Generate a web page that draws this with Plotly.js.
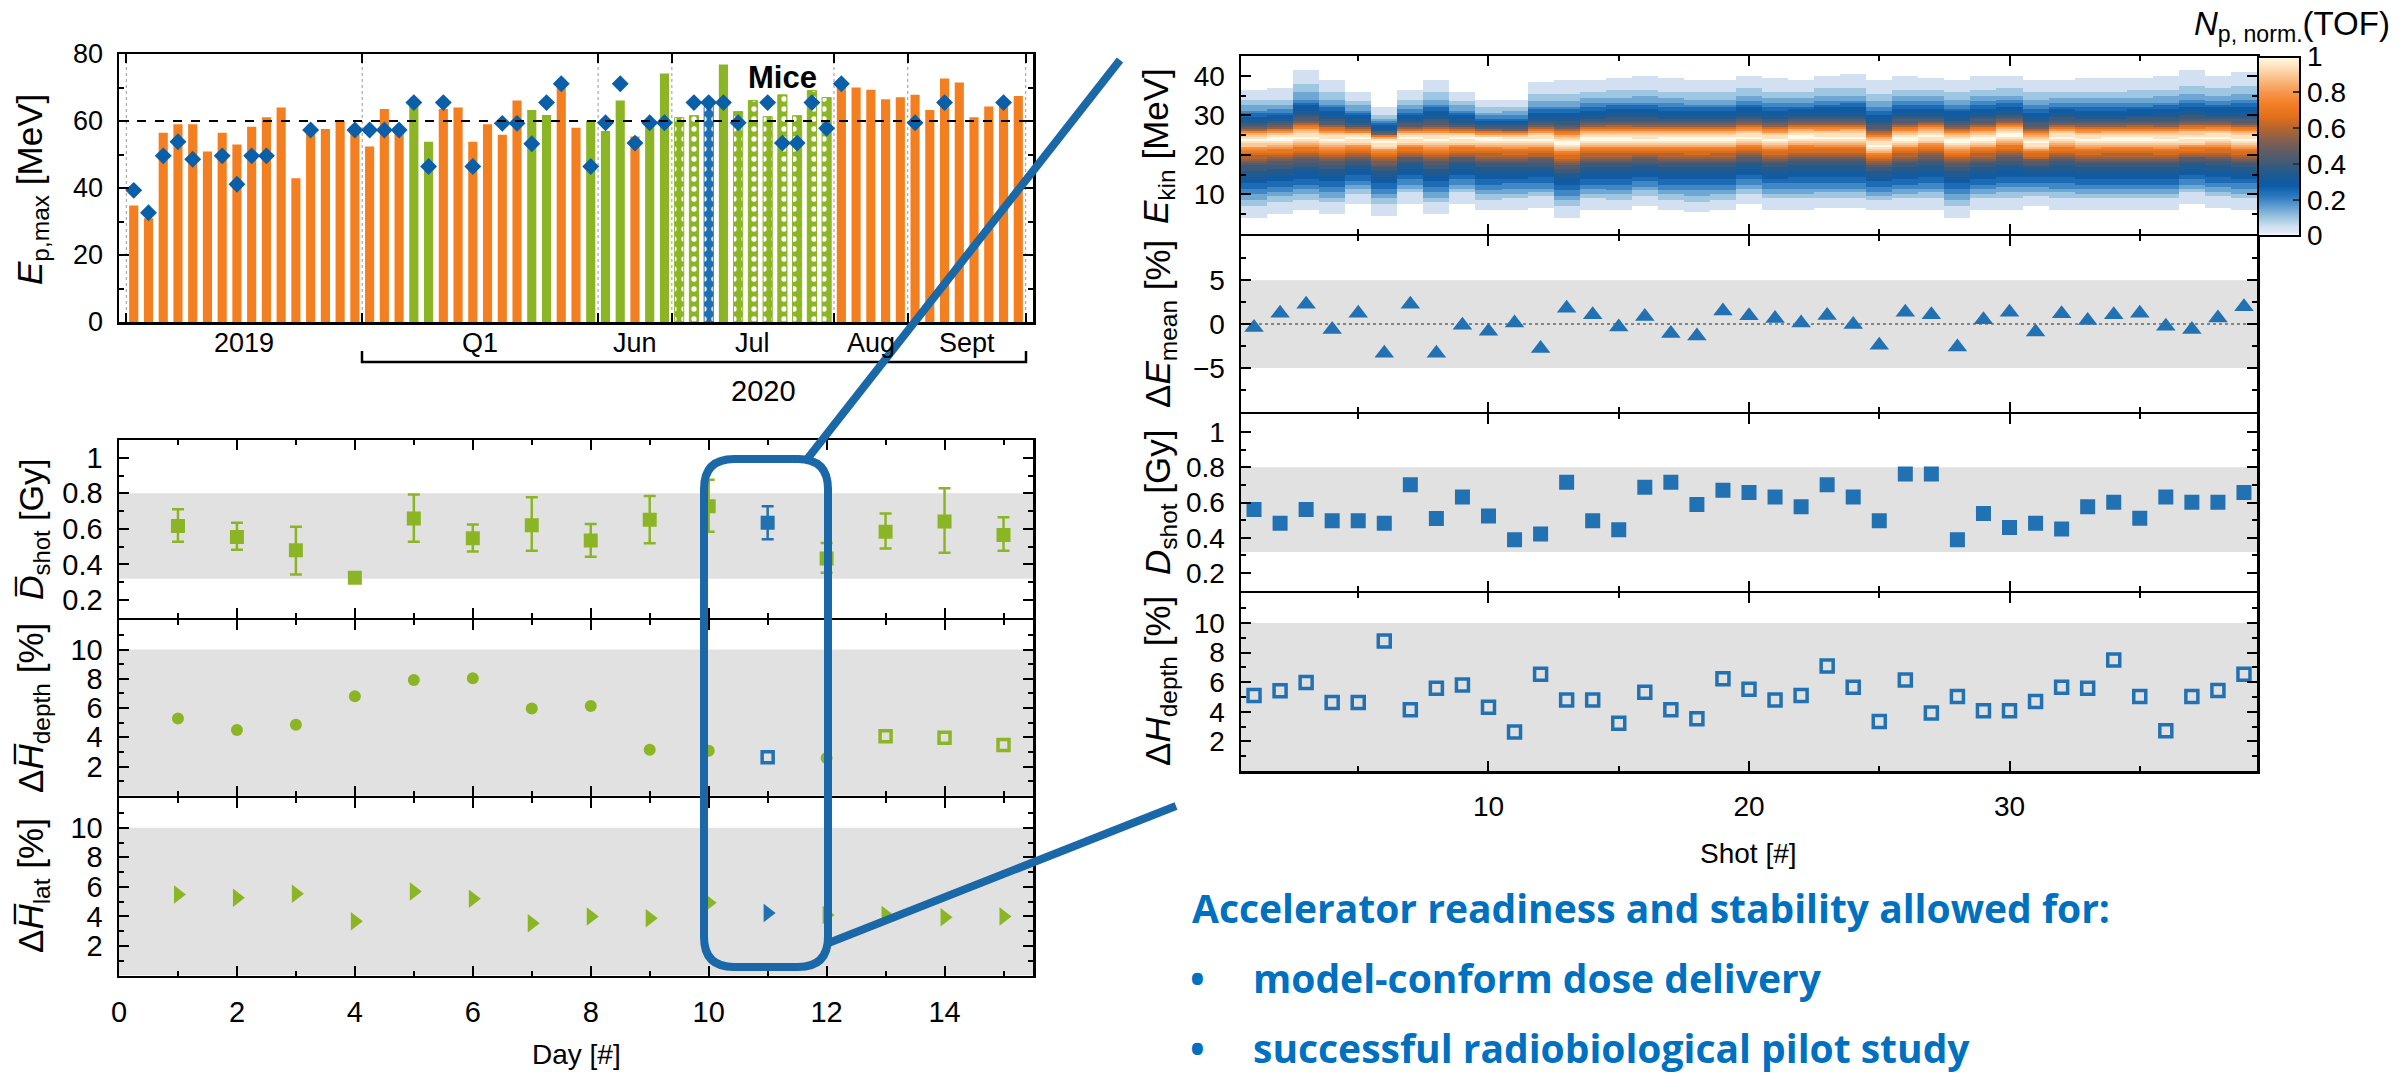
<!DOCTYPE html>
<html><head><meta charset="utf-8">
<script src="https://cdn.plot.ly/plotly-3.0.1.min.js"></script>
<style>html,body{margin:0;padding:0;background:#fff}#plot{width:2402px;height:1074px}</style>
</head><body><div id="plot"></div>
<script>
// ================= DATA =================
// --- Top-left: maximum proton energy per campaign day (bar) ---
const barNo = [1,2,3,4,5,6,7,8,9,10,11,12,13,14,15,16,17,18,19,20,21,22,23,24,25,26,27,28,29,30,
  31,32,33,34,35,36,37,38,39,40,41,42,43,44,45,46,47,48,49,50,51,52,53,54,55,56,57,58,59,60,61];
const barEmax = [34.8,31,56.5,59,59,50.9,56.5,53,58.3,61.1, 64,42.9,57.5,57.6,60.1,58,52.4,63.6,58,64.5,
  53.8,63.6,64,53.8,59,55.9,66.1,63.3,61.8,69.8, 58,60.1,57,66.1,55.4,58.8,74.2,61,61.6,64.3,
  76.9,62.8,66.1,61.3,67.8,61.6,69.1,67,70.3,70, 69.3,66.5,67.1,67.8,63.3,72.7,71.5,61.1,64.3,64.8,67.5];
// o = orange, g = green, gd = green dotted, bd = blue dotted
const barKind = ['o','o','o','o','o','o','o','o','o','o','o','o','o','o','o','o','o','o','o','g',
  'g','o','o','o','o','o','o','g','g','o','o','g','g','g','o','g','g','gd','gd','bd',
  'g','gd','gd','gd','gd','gd','gd','gd','o','o','o','o','o','o','o','o','o','o','o','o','o'];
const diamondE = [39.3,32.6,49.6,53.8,48.6,null,49.6,41.1,49.6,49.6, null,null,57.3,null,null,57.3,57.3,57.3,57.3,65.5,
  46.4,65.5,null,46.4,null,59.3,59.3,53.2,65.5,71.1, null,46.4,59.5,71.1,53.4,59.5,59.5,null,65.5,65.5,
  65.5,59.5,null,65.5,53.4,53.4,65.5,57.8,71.1,null, null,null,null,59.5,null,65.5,null,null,null,65.5,null];
const groupSeparators = [0.5,16.5,32.5,37.5,48.5,53.5,61.5];
const groupLabels = ['2019','Q1','Jun','Jul','Aug','Sept'];
const groupCenters = [8.5,24.5,35,43,51,57.5];

// --- Bottom-left: per-day values ---
const days = [1,2,3,4,5,6,7,8,9,10,11,12,13,14,15];
const dayKind = ['g','g','g','g','g','g','g','g','g','g','b','g','g','g','g'];
const doseDay = [0.616,0.554,0.48,0.325,0.658,0.547,0.621,0.535,0.651,0.727,0.635,0.434,0.584,0.642,0.565];
const doseErrPlus = [0.095,0.081,0.132,0.0,0.136,0.078,0.157,0.093,0.134,0.15,0.092,0.086,0.102,0.187,0.1];
const doseErrMinus = [0.088,0.072,0.137,0.0,0.13,0.074,0.144,0.092,0.132,0.143,0.093,0.081,0.095,0.176,0.088];
const depthDay = [5.28,4.5,4.86,6.8,7.92,8.03,5.97,6.14,3.14,3.08,2.64,2.58,4.06,3.97,3.47];
const depthKind = ['c','c','c','c','c','c','c','c','c','c','bs','c','s','s','s'];
const latDay = [5.48,5.26,5.54,3.67,5.68,5.2,3.53,4.0,3.87,4.93,4.23,4.09,4.09,3.95,4.0];

// --- Right: per-shot values ---
const shots = [1,2,3,4,5,6,7,8,9,10,11,12,13,14,15,16,17,18,19,20,21,22,23,24,25,26,27,28,29,30,31,32,33,34,35,36,37,38,39];
const deltaEmean = [-0.4,1.23,2.24,-0.63,1.23,-3.32,2.24,-3.32,-0.15,-0.82, 0.11,-2.8,1.79,1.04,-0.34,0.86,-1.08,-1.38,1.49,0.93,
  0.63,0.11,0.97,-0.07,-2.43,1.34,1.04,-2.61,0.49,1.34, -0.9,1.16,0.41,1.04,1.23,-0.26,-0.63,0.67,1.98];
const doseShot = [0.561,0.483,0.561,0.496,0.496,0.483,0.7,0.509,0.631,0.524, 0.389,0.422,0.715,0.496,0.446,0.687,0.715,0.589,0.669,0.657,
  0.631,0.576,0.7,0.631,0.496,0.761,0.761,0.389,0.537,0.459, 0.483,0.45,0.576,0.602,0.511,0.631,0.602,0.602,0.657];
const depthShot = [5.09,5.41,5.97,4.62,4.62,8.77,4.13,5.59,5.81,4.31, 2.63,6.53,4.8,4.8,3.23,5.32,4.13,3.52,6.22,5.52,
  4.8,5.09,7.09,5.65,3.35,6.15,3.91,5.03,4.06,4.06, 4.69,5.65,5.59,7.49,5.03,2.72,5.03,5.43,6.53];
// TOF spectrum per shot: peak energy, upper and lower extent (MeV)
const specPeak = [23.9,24.1,24.4,23.9,24.1,23.3,24.1,23.9,24.1,24.1, 23.9,23.9,23.1,24.1,24.1,23.9,24.1,24.1,24.1,24.4,
  23.9,24.6,24.4,24.4,22.4,24.1,24.8,23.5,24.1,25.0, 23.1,24.4,23.9,24.1,24.1,23.9,24.1,24.4,23.9];
const specMax = [36.4,36.8,41.3,39.2,36.2,32.0,36.6,38.9,36.2,33.9, 34.1,38.3,38.9,39.2,39.7,40.0,39.3,39.0,38.9,40.2,
  39.5,39.2,40.2,40.4,39.2,40.0,39.6,39.2,40.0,40.2, 39.2,39.2,39.5,39.3,39.6,40.0,41.3,40.2,41.0];
const specMin = [4.1,4.9,5.8,4.9,7.5,4.5,7.7,4.9,7.7,5.8, 6.2,6.6,4.1,6.0,5.8,7.0,5.8,5.3,5.8,7.5,
  6.2,6.0,6.4,6.4,5.8,6.0,6.0,4.1,6.0,6.2, 7.0,6.2,6.0,6.0,6.0,6.0,7.7,6.6,6.2];
// normalised TOF count profile (shot 14)
const refProfileE   = [6,7.5,8.7,10,11.5,13.4,15,17,18.5,20,21.5,22.7,24.1,25.6,26.5,27.7,29.5,31.5,33.2,35.4,37.5,39.7];
const refProfileLvl = [0.03,0.04,0.07,0.12,0.18,0.25,0.3,0.37,0.45,0.6,0.72,0.9,1.0,0.88,0.72,0.5,0.36,0.27,0.17,0.1,0.05,0.03];
const refPeak = 24.1, refMax = 39.7, refMin = 6;

// ================= STYLE =================
const W = 2402, H = 1074;
const px = x => x / W, py = y => 1 - y / H;
const FONT = 'Liberation Sans, Arial, sans-serif';
const ORANGE = '#f47f20', GREEN = '#8cb525', BLUE_BAR = '#1f6fb0', DIAM = '#0b5ea8';
const MBLUE = '#2271b3', LINEBLUE = '#1a68a8', BAND = '#e1e1e1';
const LW = 2.5; // frame line width

// ================= TRACES =================
const traces = [];
function pick(arr, kinds, k) { return arr.filter((v, i) => kinds[i] === k); }

// Bars
const barCommon = {type: 'bar', xaxis: 'x', yaxis: 'y', width: 0.62, hoverinfo: 'x+y'};
traces.push(Object.assign({}, barCommon, {x: pick(barNo, barKind, 'o'), y: pick(barEmax, barKind, 'o'),
  marker: {color: ORANGE, line: {width: 0}}}));
traces.push(Object.assign({}, barCommon, {x: pick(barNo, barKind, 'g'), y: pick(barEmax, barKind, 'g'),
  marker: {color: GREEN, line: {width: 0}}}));
traces.push(Object.assign({}, barCommon, {x: pick(barNo, barKind, 'gd'), y: pick(barEmax, barKind, 'gd'),
  marker: {color: GREEN, line: {color: GREEN, width: 1},
    pattern: {shape: '.', fgcolor: '#ffffff', bgcolor: GREEN, size: 10, solidity: 0.22, fillmode: 'replace'}}}));
traces.push(Object.assign({}, barCommon, {x: pick(barNo, barKind, 'bd'), y: pick(barEmax, barKind, 'bd'),
  marker: {color: BLUE_BAR, line: {color: BLUE_BAR, width: 1},
    pattern: {shape: '.', fgcolor: '#ffffff', bgcolor: BLUE_BAR, size: 10, solidity: 0.22, fillmode: 'replace'}}}));
traces.push({type: 'scatter', mode: 'markers', xaxis: 'x', yaxis: 'y', x: barNo, y: diamondE,
  marker: {symbol: 'diamond', size: 13, color: DIAM, line: {width: 0}}});

// Left panel 1: dose per day with error bars
['g', 'b'].forEach(k => {
  const col = k === 'g' ? GREEN : MBLUE;
  traces.push({type: 'scatter', mode: 'markers', xaxis: 'x2', yaxis: 'y2',
    x: pick(days, dayKind, k), y: pick(doseDay, dayKind, k),
    error_y: {type: 'data', symmetric: false, array: pick(doseErrPlus, dayKind, k),
      arrayminus: pick(doseErrMinus, dayKind, k), color: col, thickness: 2.5, width: 6},
    marker: {symbol: 'square', size: 14, color: col}});
});
// Left panel 2: depth homogeneity
traces.push({type: 'scatter', mode: 'markers', xaxis: 'x3', yaxis: 'y3',
  x: pick(days, depthKind, 'c'), y: pick(depthDay, depthKind, 'c'),
  marker: {symbol: 'circle', size: 12, color: GREEN}});
traces.push({type: 'scatter', mode: 'markers', xaxis: 'x3', yaxis: 'y3',
  x: pick(days, depthKind, 's'), y: pick(depthDay, depthKind, 's'),
  marker: {symbol: 'square-open', size: 11, color: GREEN, line: {width: 3.5, color: GREEN}}});
traces.push({type: 'scatter', mode: 'markers', xaxis: 'x3', yaxis: 'y3',
  x: pick(days, depthKind, 'bs'), y: pick(depthDay, depthKind, 'bs'),
  marker: {symbol: 'square-open', size: 11, color: MBLUE, line: {width: 3.5, color: MBLUE}}});
// Left panel 3: lateral homogeneity
['g', 'b'].forEach(k => {
  traces.push({type: 'scatter', mode: 'markers', xaxis: 'x4', yaxis: 'y4',
    x: pick(days, dayKind, k), y: pick(latDay, dayKind, k),
    marker: {symbol: 'triangle-right', size: 16, color: k === 'g' ? GREEN : MBLUE}});
});

// Right: heatmap of TOF spectra (table built from per-shot read values + read profile)
const eCenters = [];
for (let e = 0.25; e < 45; e += 0.5) eCenters.push(+e.toFixed(2));
function refLevel(er) {
  if (er <= refProfileE[0]) return refProfileLvl[0];
  for (let i = 1; i < refProfileE.length; i++) {
    if (er <= refProfileE[i]) {
      const t = (er - refProfileE[i - 1]) / (refProfileE[i] - refProfileE[i - 1]);
      return refProfileLvl[i - 1] + t * (refProfileLvl[i] - refProfileLvl[i - 1]);
    }
  }
  return refProfileLvl[refProfileLvl.length - 1];
}
const zTOF = eCenters.map(E => shots.map((s, j) => {
  if (E > specMax[j] || E < specMin[j]) return null;
  let er;
  if (E >= specPeak[j]) er = refPeak + (E - specPeak[j]) * (refMax - refPeak) / (specMax[j] - specPeak[j]);
  else er = refPeak - (specPeak[j] - E) * (refPeak - refMin) / (specPeak[j] - specMin[j]);
  return Math.round(refLevel(er) * 20) / 20;
}));
const tofScale = [
  [0, '#ffffff'], [0.02, '#e2e8f6'], [0.05, '#d3e0f2'], [0.08, '#b2d2e6'], [0.12, '#8dbbdc'],
  [0.17, '#5b9acf'], [0.22, '#2c7abf'], [0.28, '#0b5ba8'], [0.34, '#1b5a93'], [0.4, '#3c5a7a'],
  [0.47, '#5f5c66'], [0.54, '#88604d'], [0.6, '#b4642e'], [0.67, '#e3701c'], [0.74, '#f37f25'],
  [0.8, '#f6954a'], [0.87, '#fab980'], [0.93, '#fddab0'], [1, '#fffbe8']];
traces.push({type: 'heatmap', xaxis: 'x5', yaxis: 'y5', x: shots, y: eCenters, z: zTOF,
  zmin: 0, zmax: 1, colorscale: tofScale, zsmooth: false, hoverongaps: false,
  colorbar: {x: px(2257.5), xanchor: 'left', xpad: 0, ypad: 0, y: py(146), yanchor: 'middle',
    len: 179 / H, lenmode: 'fraction', thickness: 42, thicknessmode: 'pixels',
    outlinewidth: 2, outlinecolor: '#000', borderwidth: 0,
    tickvals: [0, 0.2, 0.4, 0.6, 0.8, 1], ticktext: ['0', '0.2', '0.4', '0.6', '0.8', '1'],
    ticks: 'inside', ticklen: 8, tickwidth: 2, tickcolor: '#333',
    tickfont: {family: FONT, size: 28, color: '#000'}}});
traces.push({type: 'scatter', mode: 'markers', xaxis: 'x6', yaxis: 'y6', x: shots, y: deltaEmean,
  marker: {symbol: 'triangle-up', size: 17, color: MBLUE}});
traces.push({type: 'scatter', mode: 'markers', xaxis: 'x7', yaxis: 'y7', x: shots, y: doseShot,
  marker: {symbol: 'square', size: 15, color: MBLUE}});
traces.push({type: 'scatter', mode: 'markers', xaxis: 'x8', yaxis: 'y8', x: shots, y: depthShot,
  marker: {symbol: 'square-open', size: 12, color: MBLUE, line: {width: 3.5, color: MBLUE}}});

// ================= LAYOUT =================
function axis(extra) {
  return Object.assign({
    showline: true, linecolor: '#000', linewidth: LW, mirror: 'allticks',
    ticks: 'inside', ticklen: 10, tickwidth: 2, tickcolor: '#000',
    showgrid: false, zeroline: false, fixedrange: true,
    tickfont: {family: FONT, size: 27, color: '#000'}, ticklabelstandoff: 8
  }, extra);
}
const LX = [px(119), px(1033)], RX = [px(1241), px(2257)];
const TF_L = {family: FONT, size: 29, color: '#000'};
const TF_R = {family: FONT, size: 28, color: '#000'};
const leftX = (anchor, labels) => axis({domain: LX, anchor: anchor, range: [0, 15.5], dtick: 2, tick0: 0,
  showticklabels: labels, tickfont: TF_L, ticklabelstandoff: 9,
  minor: {dtick: 1, tick0: 0, ticks: 'inside', ticklen: 5, tickwidth: 2, tickcolor: '#000', showgrid: false}});
const rightX = (anchor, labels) => axis({domain: RX, anchor: anchor, range: [0.5, 39.5],
  tickvals: [10, 20, 30], showticklabels: labels, ticklabelstandoff: 9, tickfont: TF_R,
  minor: {dtick: 5, tick0: 0, ticks: 'inside', ticklen: 5, tickwidth: 2, tickcolor: '#000', showgrid: false}});
const yMinor = (d, t0) => ({dtick: d, tick0: t0, ticks: 'inside', ticklen: 5, tickwidth: 2, tickcolor: '#000', showgrid: false});
// stacked panel domains: leave a gap of one line width so shared frame lines coincide
const dom = (bottomPx, topPx, gapBottom, gapTop) =>
  [py(bottomPx - (gapBottom ? LW / 2 : 0)), py(topPx + (gapTop ? LW / 2 : 0))];

const layout = {
  width: W, height: H, margin: {l: 0, r: 0, t: 0, b: 0}, autosize: false,
  paper_bgcolor: '#fff', plot_bgcolor: 'rgba(0,0,0,0)', showlegend: false, barmode: 'overlay',
  font: {family: FONT, color: '#000'},
  xaxis: axis({domain: LX, anchor: 'y', range: [0, 62], tickvals: groupSeparators, showticklabels: false, ticklen: 9}),
  yaxis: axis({domain: [py(322), py(54)], anchor: 'x', range: [0, 80], dtick: 20, tick0: 0, minor: yMinor(10, 0)}),
  xaxis2: leftX('y2', false), xaxis3: leftX('y3', false), xaxis4: leftX('y4', true),
  yaxis2: axis({domain: dom(619, 440, true, false), anchor: 'x2', range: [0.1, 1.1], tickvals: [0.2, 0.4, 0.6, 0.8, 1],
    ticktext: ['0.2', '0.4', '0.6', '0.8', '1'], minor: yMinor(0.1, 0), tickfont: TF_L}),
  yaxis3: axis({domain: dom(797, 619, true, true), anchor: 'x3', range: [0, 12], tickvals: [2, 4, 6, 8, 10],
    minor: yMinor(1, 0), tickfont: TF_L}),
  yaxis4: axis({domain: dom(975.5, 797, false, true), anchor: 'x4', range: [0, 12], tickvals: [2, 4, 6, 8, 10],
    minor: yMinor(1, 0), tickfont: TF_L}),
  xaxis5: rightX('y5', false), xaxis6: rightX('y6', false), xaxis7: rightX('y7', false), xaxis8: rightX('y8', true),
  yaxis5: axis({domain: dom(235, 56, true, false), anchor: 'x5', range: [0, 45], tickvals: [10, 20, 30, 40],
    minor: yMinor(5, 0), tickfont: TF_R}),
  yaxis6: axis({domain: dom(413, 235, true, true), anchor: 'x6', range: [-10, 10], tickvals: [-5, 0, 5],
    minor: yMinor(2.5, 0), tickfont: TF_R}),
  yaxis7: axis({domain: dom(592, 413, true, true), anchor: 'x7', range: [0.1, 1.1], tickvals: [0.2, 0.4, 0.6, 0.8, 1],
    ticktext: ['0.2', '0.4', '0.6', '0.8', '1'], minor: yMinor(0.1, 0), tickfont: TF_R}),
  yaxis8: axis({domain: dom(771, 592, false, true), anchor: 'x8', range: [0, 12], tickvals: [2, 4, 6, 8, 10],
    minor: yMinor(1, 0), tickfont: TF_R}),
  shapes: [], annotations: []
};

// bands
const band = (xr, yr, y0, y1) => ({type: 'rect', xref: xr + ' domain', yref: yr, x0: 0, x1: 1, y0: y0, y1: y1,
  fillcolor: BAND, line: {width: 0}, layer: 'below'});
layout.shapes.push(band('x2', 'y2', 0.32, 0.8), band('x3', 'y3', 0, 10), band('x4', 'y4', 0, 10),
  band('x6', 'y6', -5, 5), band('x7', 'y7', 0.32, 0.8), band('x8', 'y8', 0, 10));
layout.shapes.push({type: 'line', xref: 'x6 domain', yref: 'y6', x0: 0, x1: 1, y0: 0, y1: 0,
  line: {color: '#666', width: 1.5, dash: 'dot'}, layer: 'below'});
// separators and reference line on bar chart
groupSeparators.forEach(s => layout.shapes.push({type: 'line', xref: 'x', yref: 'y', x0: s, x1: s, y0: 0, y1: 80,
  line: {color: '#aaa', width: 1.2, dash: 'dot'}, layer: 'below'}));
layout.shapes.push({type: 'line', xref: 'x domain', yref: 'y', x0: 0, x1: 1, y0: 60, y1: 60,
  line: {color: '#000', width: 2, dash: 'dash'}});
// 2020 bracket
layout.shapes.push({type: 'path', xref: 'paper', yref: 'paper',
  path: `M${px(362)},${py(351)} V${py(362)} H${px(1026)} V${py(351)}`, line: {color: '#000', width: 2.5}});
// highlight box and connecting lines
function roundRect(x0, y0, x1, y1, r) {
  return `M${px(x0 + r)},${py(y0)} L${px(x1 - r)},${py(y0)} Q${px(x1)},${py(y0)} ${px(x1)},${py(y0 + r)} ` +
    `L${px(x1)},${py(y1 - r)} Q${px(x1)},${py(y1)} ${px(x1 - r)},${py(y1)} L${px(x0 + r)},${py(y1)} ` +
    `Q${px(x0)},${py(y1)} ${px(x0)},${py(y1 - r)} L${px(x0)},${py(y0 + r)} Q${px(x0)},${py(y0)} ${px(x0 + r)},${py(y0)} Z`;
}
layout.shapes.push({type: 'path', xref: 'paper', yref: 'paper', path: roundRect(704, 459, 828, 967, 30),
  line: {color: LINEBLUE, width: 8}, layer: 'above'});
layout.shapes.push({type: 'line', xref: 'paper', yref: 'paper', x0: px(808), y0: py(458), x1: px(1120), y1: py(60),
  line: {color: LINEBLUE, width: 8}});
layout.shapes.push({type: 'line', xref: 'paper', yref: 'paper', x0: px(826), y0: py(944), x1: px(1176), y1: py(806),
  line: {color: LINEBLUE, width: 8}});

// annotations
const A = (x, y, text, size, extra) => Object.assign({xref: 'paper', yref: 'paper', x: px(x), y: py(y), text: text,
  showarrow: false, xanchor: 'center', yanchor: 'middle', font: {family: FONT, size: size, color: '#000'}}, extra || {});
layout.annotations.push(
  A(32, 190, '<i>E</i><sub>p,max</sub> [MeV]', 35, {textangle: -90}),
  A(33, 530, '<i>D̅</i><sub>shot</sub> [Gy]', 34, {textangle: -90}),
  A(33, 708, 'Δ<i>H̅</i><sub>depth</sub> [%]', 35, {textangle: -90}),
  A(33, 886, 'Δ<i>H̅</i><sub>lat</sub> [%]', 35, {textangle: -90}),
  A(576, 1054, 'Day [#]', 28),
  A(763, 391, '2020', 29),
  A(1158, 146, '<i>E</i><sub>kin</sub> [MeV]', 35, {textangle: -90}),
  A(1160, 324, 'Δ<i>E</i><sub>mean</sub> [%]', 35, {textangle: -90}),
  A(1160, 502, '<i>D</i><sub>shot</sub> [Gy]', 35, {textangle: -90}),
  A(1160, 681, 'Δ<i>H</i><sub>depth</sub> [%]', 35, {textangle: -90}),
  A(1748, 853, 'Shot [#]', 28),
  A(2392, 26, '<i>N</i><sub>p, norm.</sub>(TOF)', 33, {xanchor: 'right'})
);
groupLabels.forEach((t, i) => layout.annotations.push({xref: 'x', yref: 'paper', x: groupCenters[i], y: py(343),
  text: t, showarrow: false, yanchor: 'middle', font: {family: FONT, size: 27, color: '#000'}}));
layout.annotations.push({xref: 'x', yref: 'y', x: 45, y: 73, text: '<b>Mice</b>', showarrow: false,
  font: {family: FONT, size: 31, color: '#000'}});
const TB = {family: 'Open Sans, Noto Sans, sans-serif', size: 39, color: '#0070c0'};
layout.annotations.push(
  A(1190, 907, '<b>Accelerator readiness and stability allowed for:</b>', 39, {xanchor: 'left', font: TB}),
  A(1197, 977, '<b>•</b>', 39, {font: TB}),
  A(1251, 977, '<b>model-conform dose delivery</b>', 39, {xanchor: 'left', font: TB}),
  A(1197, 1047, '<b>•</b>', 39, {font: TB}),
  A(1251, 1047, '<b>successful radiobiological pilot study</b>', 39, {xanchor: 'left', font: TB})
);

Plotly.newPlot('plot', traces, layout, {staticPlot: true, displayModeBar: false});
</script></body></html>
